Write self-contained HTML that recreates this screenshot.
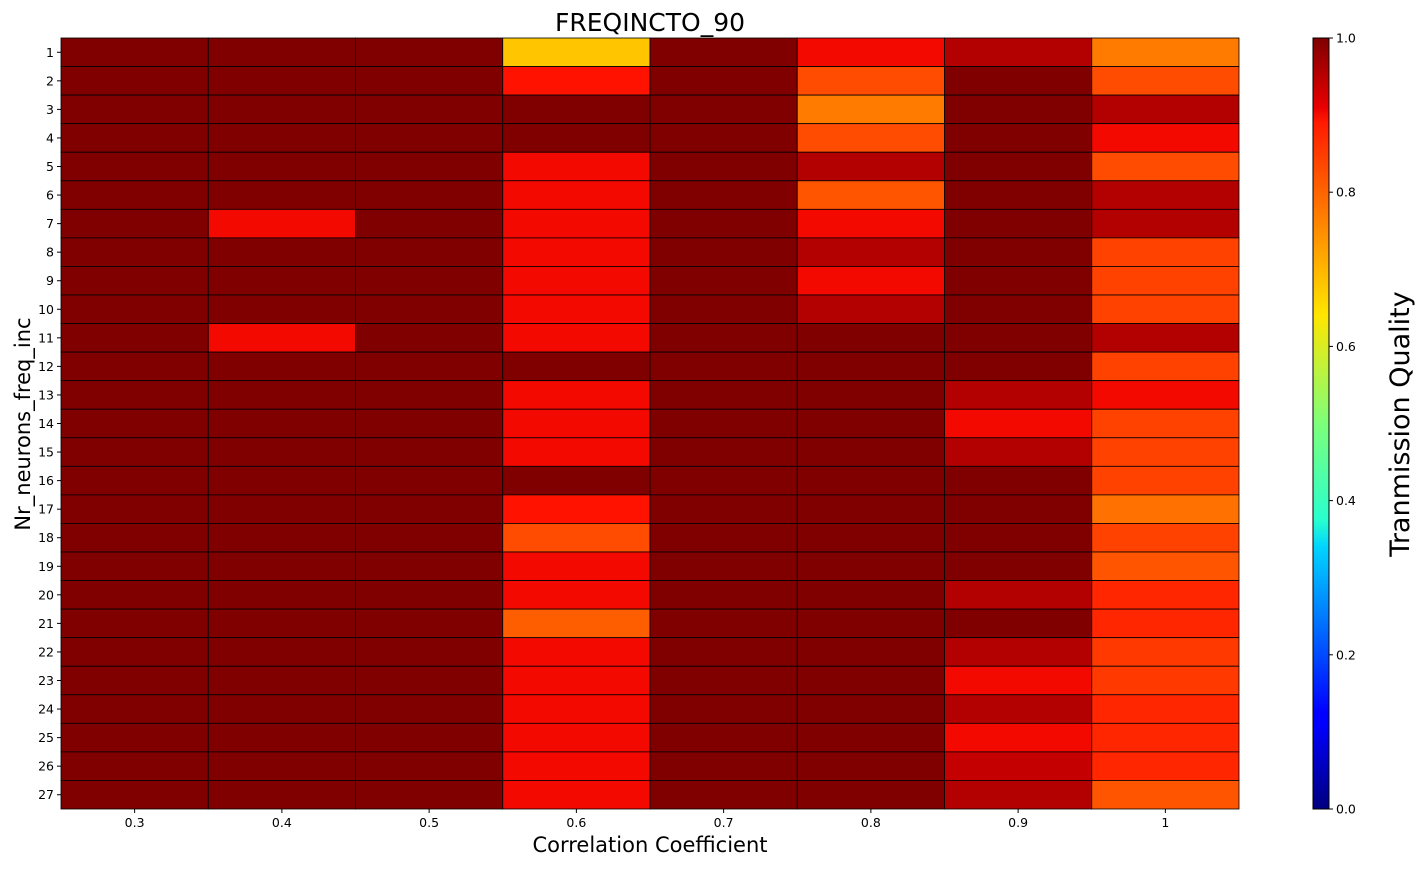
<!DOCTYPE html>
<html><head><meta charset="utf-8"><style>
body{margin:0;background:#fff;font-family:"Liberation Sans","DejaVu Sans",sans-serif}
svg text{font-family:"DejaVu Sans","Liberation Sans",sans-serif}
</style></head><body>
<svg id="chart" width="1426" height="866">
<defs><linearGradient id="jetg" x1="0" y1="1" x2="0" y2="0">
<stop offset="0" stop-color="#00007f"/><stop offset="0.11" stop-color="#0000ff"/><stop offset="0.125" stop-color="#0000ff"/><stop offset="0.34" stop-color="#00d4ff"/><stop offset="0.375" stop-color="#29ffce"/><stop offset="0.5" stop-color="#7dff7a"/><stop offset="0.64" stop-color="#ffe600"/><stop offset="0.66" stop-color="#ffd600"/><stop offset="0.89" stop-color="#ff1b00"/><stop offset="0.91" stop-color="#e80000"/><stop offset="1" stop-color="#7f0000"/>
</linearGradient></defs>
<g id="cells"></g>
<g id="axes"></g>
<text x="650" y="31" font-size="25" text-anchor="middle">FREQINCTO_90</text>
<text x="650" y="852" font-size="21" text-anchor="middle">Correlation Coefficient</text>
<text transform="translate(30,424) rotate(-90)" font-size="21" text-anchor="middle">Nr_neurons_freq_inc</text>
<rect x="1313" y="38" width="16" height="771" fill="url(#jetg)"/>
<rect x="1313" y="38" width="16" height="771" fill="none" stroke="#000" stroke-width="1"/>
<g id="cbticks"></g>
<text transform="translate(1409,424) rotate(-90)" font-size="27" text-anchor="middle">Tranmission Quality</text>
</svg>
<script>
const xCategories=["0.3","0.4","0.5","0.6","0.7","0.8","0.9","1"];
const yCategories=[];for(let i=1;i<=27;i++)yCategories.push(String(i));
const col03=[1,1,1,1,1,1,1,1,1,1,1,1,1,1,1,1,1,1,1,1,1,1,1,1,1,1,1];
const col04=[1,1,1,1,1,1,0.9,1,1,1,0.9,1,1,1,1,1,1,1,1,1,1,1,1,1,1,1,1];
const col05=[1,1,1,1,1,1,1,1,1,1,1,1,1,1,1,1,1,1,1,1,1,1,1,1,1,1,1];
const col06=[0.70,0.89,1,1,0.9,0.9,0.9,0.9,0.9,0.9,0.9,1,0.9,0.9,0.9,1,0.89,0.83,0.9,0.9,0.81,0.9,0.9,0.9,0.9,0.9,0.9];
const col07=[1,1,1,1,1,1,1,1,1,1,1,1,1,1,1,1,1,1,1,1,1,1,1,1,1,1,1];
const col08=[0.9,0.83,0.78,0.83,0.956,0.82,0.9,0.956,0.9,0.956,1,1,1,1,1,1,1,1,1,1,1,1,1,1,1,1,1];
const col09=[0.956,1,1,1,1,1,1,1,1,1,1,1,0.956,0.9,0.956,1,1,1,1,0.956,1,0.956,0.9,0.956,0.9,0.94,0.956];
const col10=[0.78,0.83,0.956,0.9,0.83,0.956,0.956,0.84,0.84,0.84,0.956,0.84,0.9,0.84,0.84,0.84,0.79,0.84,0.82,0.87,0.87,0.85,0.85,0.87,0.87,0.87,0.82];
const columns=[col03,col04,col05,col06,col07,col08,col09,col10];
const cbTicks=[0,0.2,0.4,0.6,0.8,1.0];
const cbTickLabels=["0.0","0.2","0.4","0.6","0.8","1.0"];
const L=61,R=1239,T=38,B=809;
const cw=(R-L)/xCategories.length, rh=(B-T)/yCategories.length;
const xPos=i=>L+i*cw, yPos=j=>T+j*rh, cbY=v=>B-v*(B-T);
function interp(pts,v){for(let k=1;k<pts.length;k++){if(v<=pts[k][0]){const a=pts[k-1],b=pts[k];return a[1]+(b[1]-a[1])*(v-a[0])/(b[0]-a[0]);}}return pts[pts.length-1][1];}
function jet(v){const r=interp([[0,0],[0.35,0],[0.66,1],[0.89,1],[1,0.5]],v),g=interp([[0,0],[0.125,0],[0.375,1],[0.64,1],[0.91,0],[1,0]],v),b=interp([[0,0.5],[0.11,1],[0.34,1],[0.65,0],[1,0]],v);return `rgb(${Math.round(r*255)},${Math.round(g*255)},${Math.round(b*255)})`;}
const NS="http://www.w3.org/2000/svg";
const cells=document.getElementById('cells'),axes=document.getElementById('axes'),cbt=document.getElementById('cbticks');
function mk(t,a,p){const e=document.createElementNS(NS,t);for(const k in a)e.setAttribute(k,a[k]);p.appendChild(e);return e;}
columns.forEach((col,i)=>col.forEach((v,j)=>{
const r=mk('rect',{x:xPos(i),y:yPos(j),width:cw,height:rh,fill:jet(v),stroke:'#000','stroke-width':0.8},cells);


}));
xCategories.forEach((c,i)=>{
mk('line',{x1:xPos(i)+cw/2,x2:xPos(i)+cw/2,y1:B,y2:B+4,stroke:'#000'},axes);
const t=mk('text',{x:xPos(i)+cw/2,y:B+18,'font-size':12.5,'text-anchor':'middle'},axes);t.textContent=c;


});
yCategories.forEach((c,j)=>{
mk('line',{x1:L-4,x2:L,y1:yPos(j)+rh/2,y2:yPos(j)+rh/2,stroke:'#000'},axes);
const t=mk('text',{x:L-7,y:yPos(j)+rh/2+4.5,'font-size':12.5,'text-anchor':'end'},axes);t.textContent=c;


});
cbTicks.forEach((v,k)=>{
mk('line',{x1:1329,x2:1333,y1:cbY(v),y2:cbY(v),stroke:'#000'},cbt);
const t=mk('text',{x:1336,y:cbY(v)+4.5,'font-size':12.5},cbt);t.textContent=cbTickLabels[k];


});
</script>
</body></html>
